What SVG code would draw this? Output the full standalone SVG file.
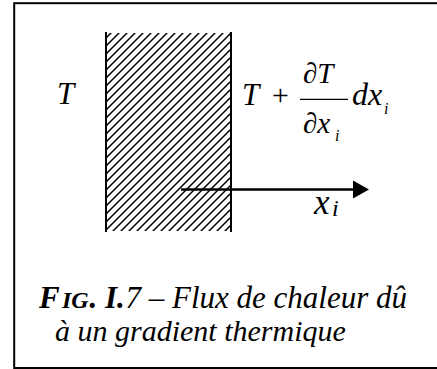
<svg xmlns="http://www.w3.org/2000/svg" width="437" height="369" viewBox="0 0 437 369">
<style>
.t{font-family:"Liberation Serif","Times New Roman",serif;font-style:italic;fill:#000}
.b{font-weight:bold}
.ln{stroke:#000;fill:none}
</style>
<defs>
<pattern id="hatch" patternUnits="userSpaceOnUse" width="8" height="8">
<path d="M-2,2 L2,-2 M0,8 L8,0 M6,10 L10,6" stroke="#000" stroke-width="1.5"/>
</pattern>
</defs>
<rect x="0" y="0" width="437" height="369" fill="#fff"/>
<rect class="ln" x="14.2" y="3.2" width="430" height="364.8" stroke-width="2"/>
<g id="wall">
<rect x="107" y="33" width="123" height="198" fill="url(#hatch)"/>
<line class="ln" x1="106" y1="32" x2="106" y2="232" stroke-width="2"/>
<line class="ln" x1="231" y1="32" x2="231" y2="232" stroke-width="2"/>
</g>
<g id="connectors">
<line class="ln" x1="181" y1="189.5" x2="355" y2="189.5" stroke-width="2.5"/>
<polygon points="353,180.5 369,189.5 353,198.5" fill="#000"/>
</g>
<g id="label-left">
<text class="t" x="57" y="104" font-size="31">T</text>
</g>
<g id="label-right">
<text class="t" x="242" y="105" font-size="31">T</text>
<text class="t" x="270" y="105" font-size="30" font-style="normal">+</text>
<text class="t" x="303" y="83" font-size="29"><tspan font-style="normal">∂</tspan>T</text>
<line class="ln" x1="300" y1="99.3" x2="348" y2="99.3" stroke-width="1.3"/>
<text class="t" x="303" y="133" font-size="29"><tspan font-style="normal">∂</tspan>x</text>
<text class="t" x="335" y="141" font-size="16">i</text>
<text class="t" x="352" y="105" font-size="32">dx</text>
<text class="t" x="384" y="114" font-size="16">i</text>
</g>
<g id="label-axis">
<text class="t" x="314" y="214" font-size="35">x</text>
<text class="t" x="332" y="216" font-size="24">i</text>
</g>
<g id="caption">
<text class="t b" x="39" y="307.5" font-size="31">F</text>
<text class="t b" x="62" y="307.5" font-size="24">IG</text>
<text class="t b" x="89.5" y="307.5" font-size="31">. I.</text>
<text class="t" x="125.5" y="307.5" font-size="31">7 – Flux de chaleur dû</text>
<text class="t" x="55" y="341" font-size="30">à un gradient thermique</text>
</g>
</svg>
